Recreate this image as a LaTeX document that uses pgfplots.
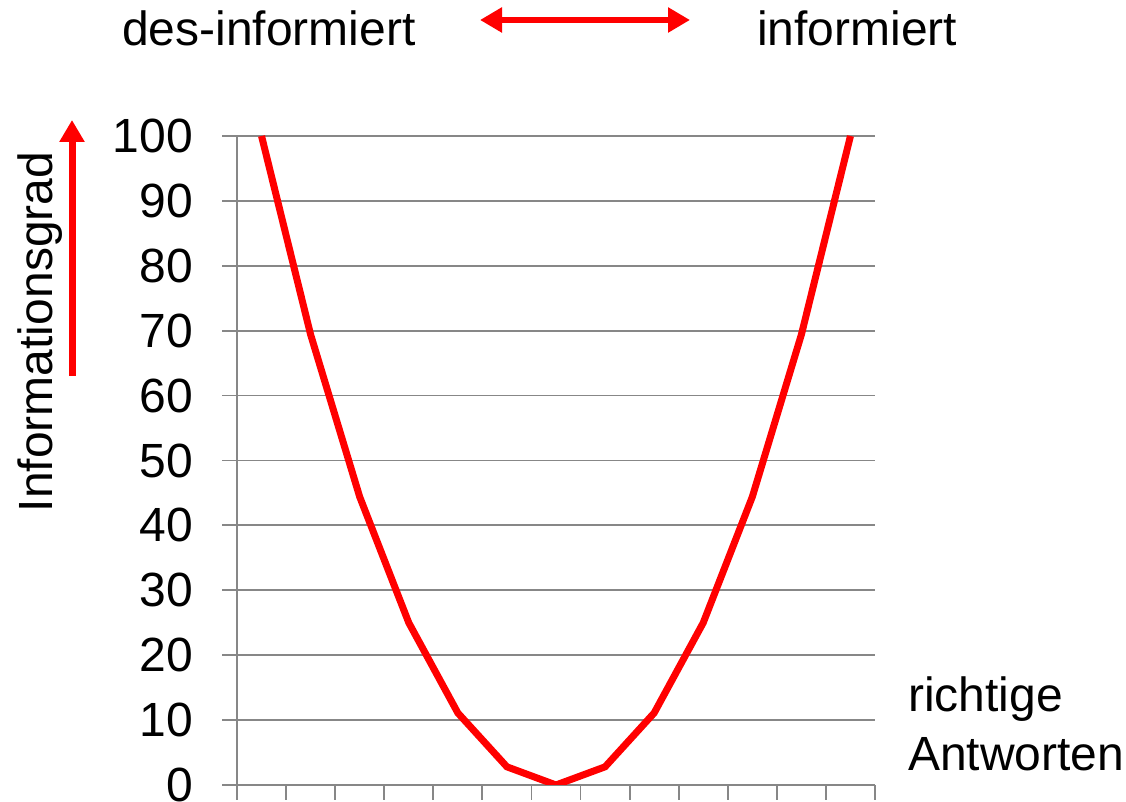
\documentclass[border=0pt]{standalone}
\usepackage{fontspec}
\setmainfont{Liberation Sans}
\usepackage{pgfplots}
\pgfplotsset{compat=1.18}
\usetikzlibrary{arrows.meta}
\definecolor{gridgray}{HTML}{878787}
\definecolor{curvered}{HTML}{FF0000}

\begin{document}
\begin{tikzpicture}
\path[use as bounding box] (0pt,0pt) rectangle (1126pt,802pt);
\begin{axis}[
  at={(237pt,17pt)}, anchor=south west,
  scale only axis, width=638pt, height=649pt,
  xmin=0, xmax=13, ymin=0, ymax=100,
  xtick={0,...,13}, xticklabels={},
  ytick={0,10,...,100},
  ymajorgrids,
  grid style={gridgray, line width=1.8pt},
  axis line style={gridgray, line width=1.8pt},
  axis x line*=bottom, axis y line*=left,
  tick align=outside,
  major tick length=15pt,
  tick style={gridgray, line width=1.8pt},
  /pgf/number format/assume math mode=true,
  yticklabel style={font=\fontsize{48}{56}\selectfont, anchor=east, inner sep=0pt, xshift=-29pt},
]
\addplot[curvered, line width=7pt] coordinates {
  (0.5,100) (1.5,69.4) (2.5,44.4) (3.5,25) (4.5,11.1) (5.5,2.8) (6.5,0)
  (7.5,2.8) (8.5,11.1) (9.5,25) (10.5,44.4) (11.5,69.4) (12.5,100)
};
\end{axis}
\node[anchor=base west, inner sep=0pt, font=\fontsize{48}{56}\selectfont] at (122pt,756pt) {des-informiert};
\node[anchor=base west, inner sep=0pt, font=\fontsize{48}{56}\selectfont] at (757pt,756pt) {informiert};
\draw[curvered, line width=6pt, {Triangle[length=22pt,width=24pt]}-{Triangle[length=22pt,width=24pt]}] (480pt,782pt) -- (690pt,782pt);
\draw[curvered, line width=7pt, -{Triangle[length=22pt,width=24pt]}] (72pt,426pt) -- (72pt,682pt);
\node[anchor=base, rotate=90, inner sep=0pt, font=\fontsize{48}{56}\selectfont] at (52pt,470pt) {Informationsgrad};
\node[anchor=base west, inner sep=0pt, font=\fontsize{48}{56}\selectfont] at (908pt,90pt) {richtige};
\node[anchor=base west, inner sep=0pt, font=\fontsize{48}{56}\selectfont] at (908pt,31pt) {Antworten};
\end{tikzpicture}
\end{document}
